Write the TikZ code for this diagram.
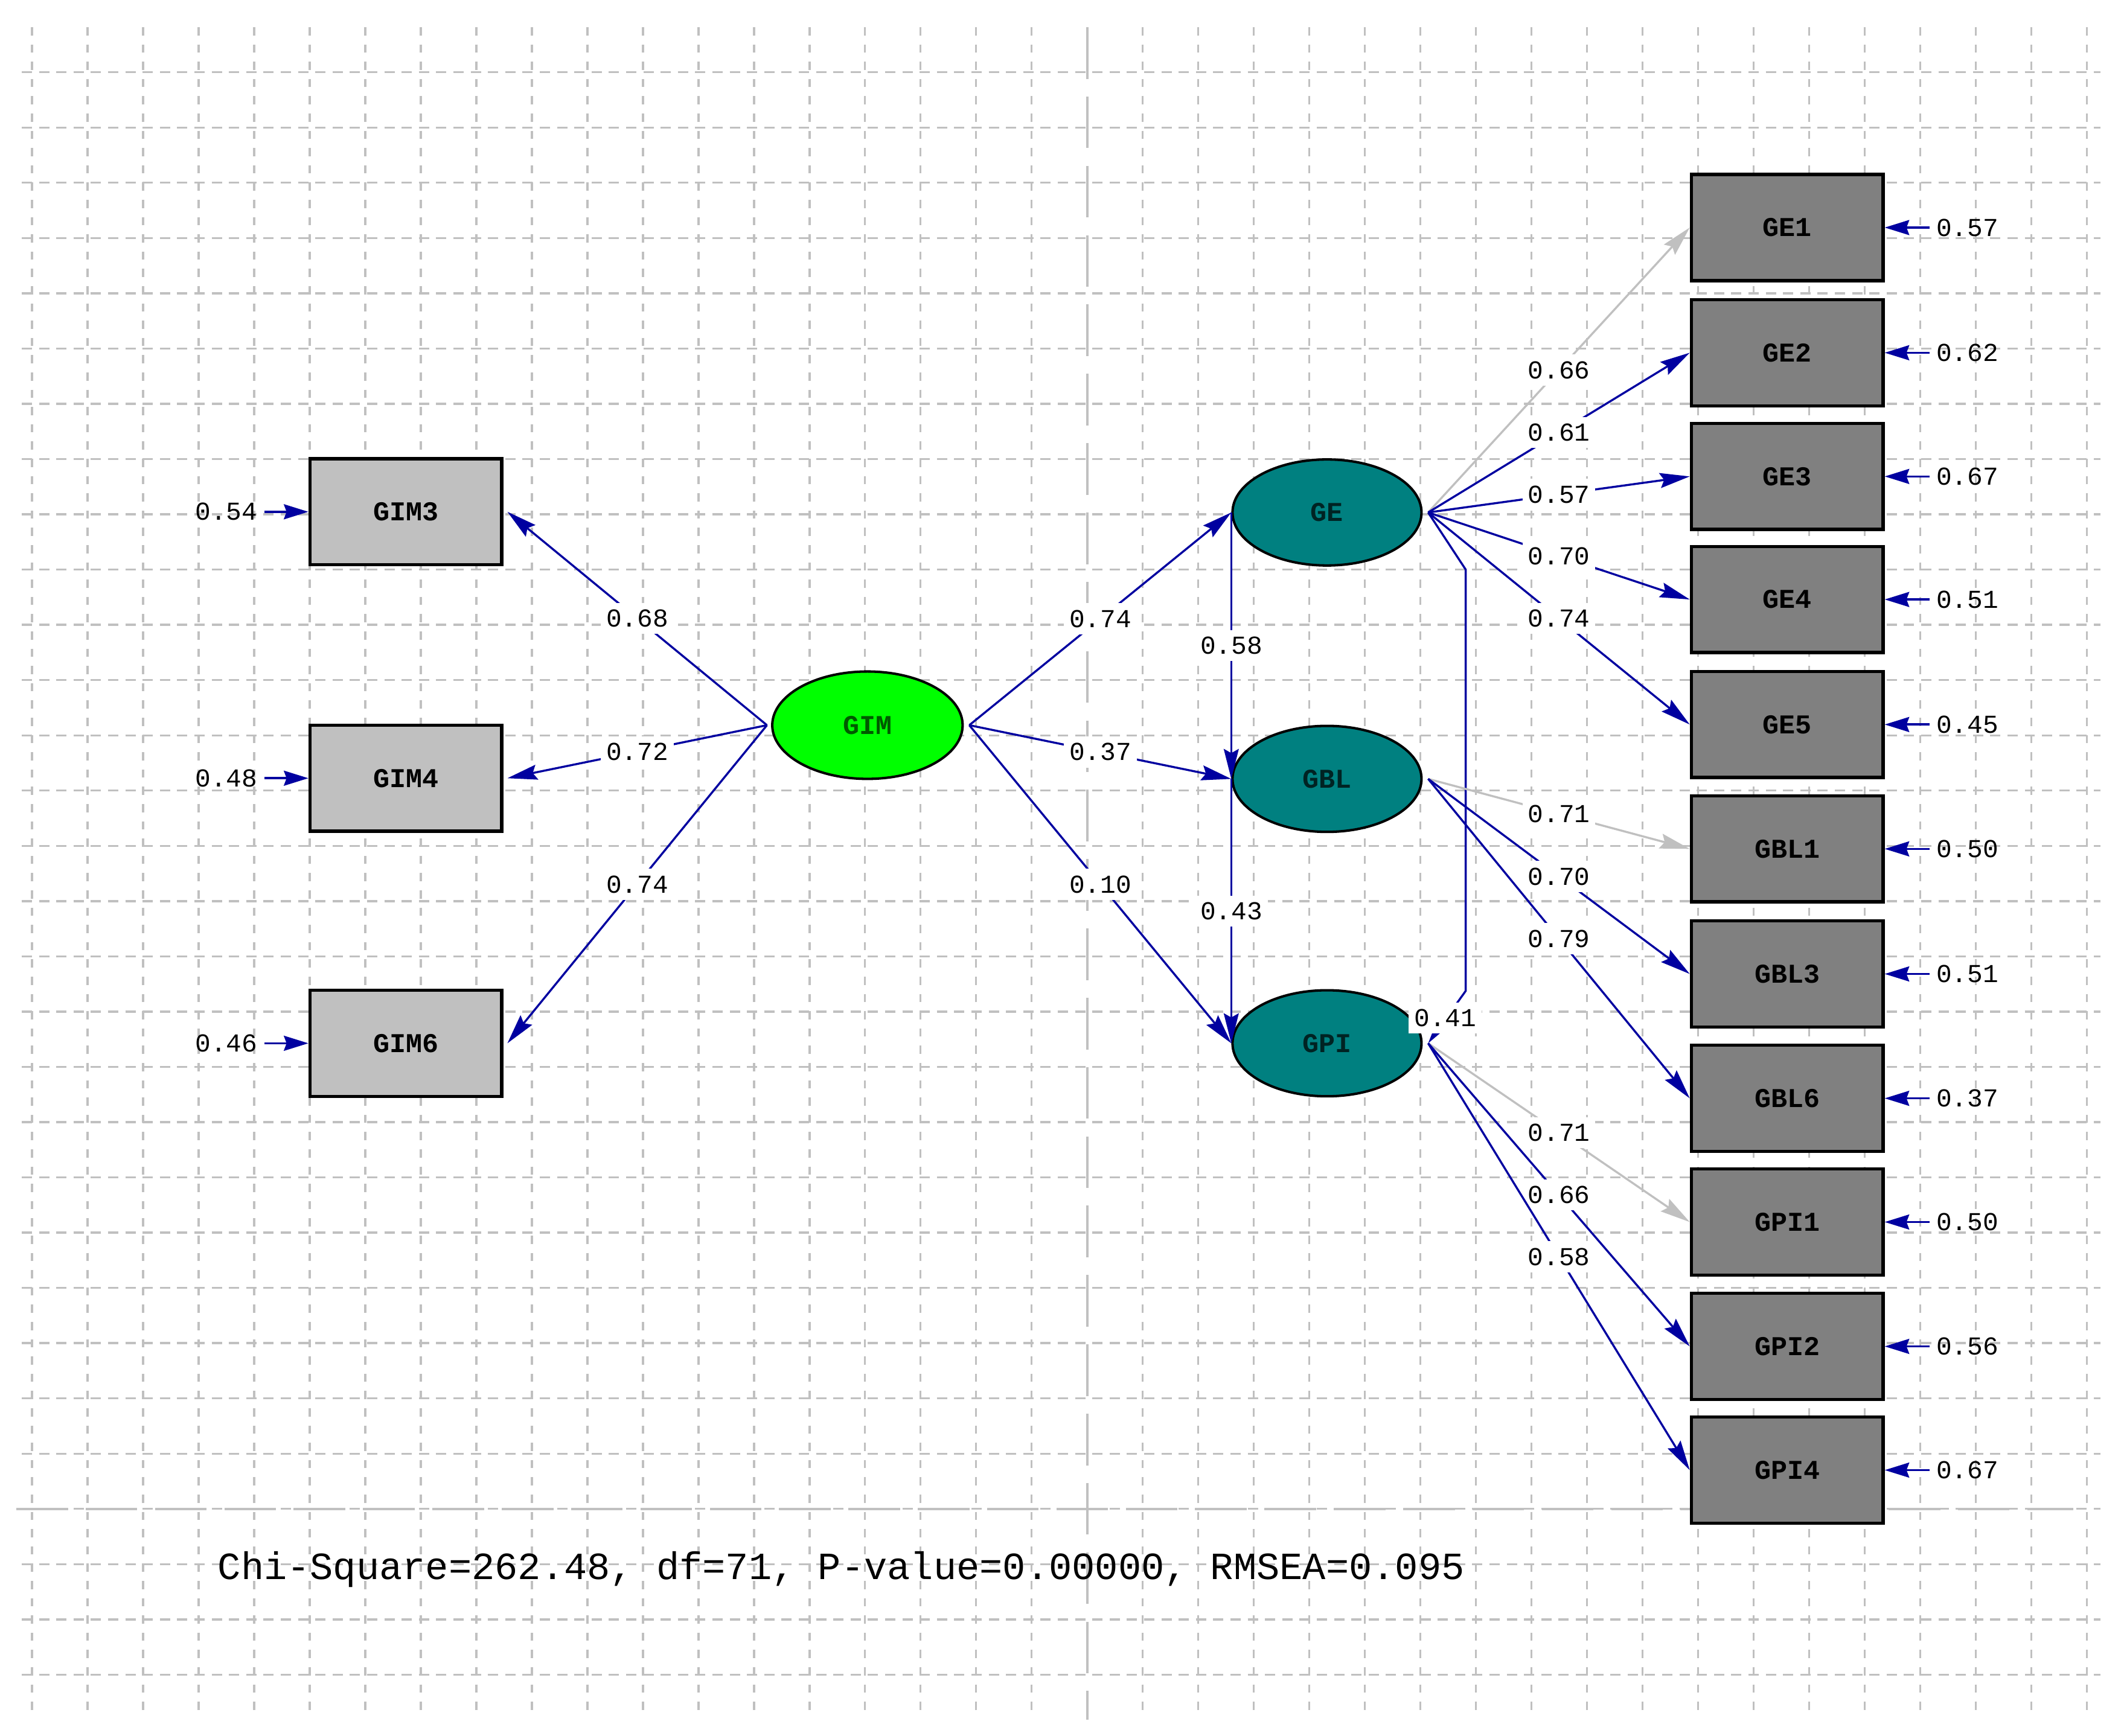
\documentclass[tikz,border=0pt]{standalone}
\usepackage{fontspec}
\newfontfamily\lmono{Liberation Mono}
\usetikzlibrary{arrows.meta,shapes.geometric}
\definecolor{lisblue}{RGB}{0,0,160}
\definecolor{gridc}{RGB}{192,192,192}
\definecolor{boxl}{RGB}{192,192,192}
\definecolor{boxd}{RGB}{128,128,128}
\definecolor{tealfill}{RGB}{0,128,128}
\definecolor{limefill}{RGB}{0,255,0}
\definecolor{gimtext}{RGB}{0,90,0}
\definecolor{lattext}{RGB}{0,35,35}
\begin{document}
\begin{tikzpicture}[x=1pt,y=-1pt,
  gridv/.style={draw=gridc,line width=1.5pt,dash pattern=on 6pt off 6.7pt},
  gridh/.style={draw=gridc,line width=1.5pt,dash pattern=on 7.5pt off 5.2pt},
  longdash/.style={draw=gridc,line width=1.7pt,dash pattern=on 38pt off 13pt},
  obsl/.style={rectangle,draw=black,line width=2.4pt,fill=boxl,minimum width=141pt,minimum height=78pt,inner sep=0pt,font=\lmono\bfseries\fontsize{20}{20}\selectfont,text=black},
  obsd/.style={obsl,fill=boxd},
  lat/.style={ellipse,draw=black,line width=1.8pt,fill=tealfill,minimum width=139pt,minimum height=78pt,inner sep=0pt,font=\lmono\bfseries\fontsize{20}{20}\selectfont,text=lattext},
  gimst/.style={lat,fill=limefill,text=gimtext,minimum width=140pt,minimum height=79pt},
  lab/.style={fill=white,inner xsep=4pt,inner ysep=5pt,font=\lmono\fontsize{19}{19}\selectfont,text=black},
  elab/.style={inner sep=5pt,font=\lmono\fontsize{19}{19}\selectfont,text=black},
  pth/.style={draw=lisblue,line width=1.5pt,-{Stealth[length=22pt,width=11pt,inset=3pt]}},
  pthg/.style={pth,draw=gridc},
  err/.style={draw=lisblue,line width=1.6pt,-{Stealth[length=18pt,width=11pt,inset=2pt]}}
]
\useasboundingbox[fill=white] (0,0) rectangle (1560,1277.1);

% grid
\foreach \k in {0,...,37}{
  \ifnum\k=19\relax\else
    \draw[gridv] ({23.5+40.85*\k},20) -- ({23.5+40.85*\k},1262);
  \fi
}
\foreach \k in {1,...,30}{
  \draw[gridh] (16,{12.5+40.65*\k}) -- (1545,{12.5+40.65*\k});
}
\draw[longdash] (799.7,20) -- (799.7,1265);
\draw[longdash] (12,1110) -- (1525,1110);

% observed variables (left)
\node[obsl] (GIM3) at (298.5,376.5) {GIM3};
\node[obsl] (GIM4) at (298.5,572.5) {GIM4};
\node[obsl] (GIM6) at (298.5,767.5) {GIM6};

% latent variables
\node[gimst] (GIM) at (638,533.5) {GIM};
\node[lat] (GE) at (976,377) {GE};
\node[lat] (GBL) at (976,573) {GBL};
\node[lat] (GPI) at (976,767.5) {GPI};

% observed variables (right)
\node[obsd] (GE1) at (1314.5,167.4) {GE1};
\node[obsd] (GE2) at (1314.5,259.5) {GE2};
\node[obsd] (GE3) at (1314.5,350.5) {GE3};
\node[obsd] (GE4) at (1314.5,441) {GE4};
\node[obsd] (GE5) at (1314.5,533) {GE5};
\node[obsd] (GBL1) at (1314.5,624.5) {GBL1};
\node[obsd] (GBL3) at (1314.5,716.5) {GBL3};
\node[obsd] (GBL6) at (1314.5,808) {GBL6};
\node[obsd] (GPI1) at (1314.5,899) {GPI1};
\node[obsd] (GPI2) at (1314.5,990.5) {GPI2};
\node[obsd] (GPI4) at (1314.5,1081.5) {GPI4};

% error variances
\node[elab] (eGIM3) at (166.5,376.5) {0.54};
\node[elab] (eGIM4) at (166.5,572.5) {0.48};
\node[elab] (eGIM6) at (166.5,767.5) {0.46};
\draw[err] (eGIM3.east) -- (GIM3.west);
\draw[err] (eGIM4.east) -- (GIM4.west);
\draw[err] (eGIM6.east) -- (GIM6.west);

\foreach \n/\v in {GE1/0.57,GE2/0.62,GE3/0.67,GE4/0.51,GE5/0.45,GBL1/0.50,GBL3/0.51,GBL6/0.37,GPI1/0.50,GPI2/0.56,GPI4/0.67}{
  \node[elab] (e\n) at (1447,0 |- \n) {\v};
  \draw[err] (e\n.west) -- (\n.east);
}

% start points
\coordinate (GIMw) at ([xshift=-3pt]GIM.west);
\coordinate (GIMe) at ([xshift=4pt]GIM.east);
\coordinate (GEe) at ([xshift=4pt]GE.east);
\coordinate (GBLe) at ([xshift=4pt]GBL.east);
\coordinate (GPIe) at ([xshift=4pt]GPI.east);
\coordinate (b1) at (1078,419);
\coordinate (b2) at (1078,729);

% paths GIM -> indicators
\draw[pth] (GIMw) -- node[lab] {0.68} ([xshift=3pt]GIM3.east);
\draw[pth] (GIMw) -- node[lab] {0.72} ([xshift=3pt]GIM4.east);
\draw[pth] (GIMw) -- node[lab] {0.74} ([xshift=3pt]GIM6.east);

% structural paths
\draw[pth] (GIMe) -- node[lab] {0.74} (GE.west);
\draw[pth] (GIMe) -- node[lab] {0.37} (GBL.west);
\draw[pth] (GIMe) -- node[lab] {0.10} (GPI.west);
\draw[pth] (GE.west) -- node[lab] {0.58} (GBL.west);
\draw[pth] (GBL.west) -- node[lab] {0.43} (GPI.west);
\draw[pth] (GEe) -- (b1) -- (b2) -- (GPIe);
\node[lab] (l41) at (1063,749) {0.41};

% GE indicators
\draw[pthg] (GEe) -- node[lab] {0.66} (GE1.west);
\draw[pth] (GEe) -- node[lab] {0.61} (GE2.west);
\draw[pth] (GEe) -- node[lab] {0.57} (GE3.west);
\draw[pth] (GEe) -- node[lab] {0.70} (GE4.west);
\draw[pth] (GEe) -- node[lab] {0.74} (GE5.west);

% GBL indicators
\draw[pthg] (GBLe) -- node[lab] {0.71} (GBL1.west);
\draw[pth] (GBLe) -- node[lab] {0.70} (GBL3.west);
\draw[pth] (GBLe) -- node[lab] {0.79} (GBL6.west);

% GPI indicators
\draw[pthg] (GPIe) -- node[lab] {0.71} (GPI1.west);
\draw[pth] (GPIe) -- node[lab] {0.66} (GPI2.west);
\draw[pth] (GPIe) -- node[lab] {0.58} (GPI4.west);

% fit statistics
\node[anchor=base west,inner sep=0pt,font=\lmono\fontsize{28.3}{29}\selectfont] (fit) at (160,1162) {Chi-Square=262.48, df=71, P-value=0.00000, RMSEA=0.095};
\end{tikzpicture}
\end{document}
